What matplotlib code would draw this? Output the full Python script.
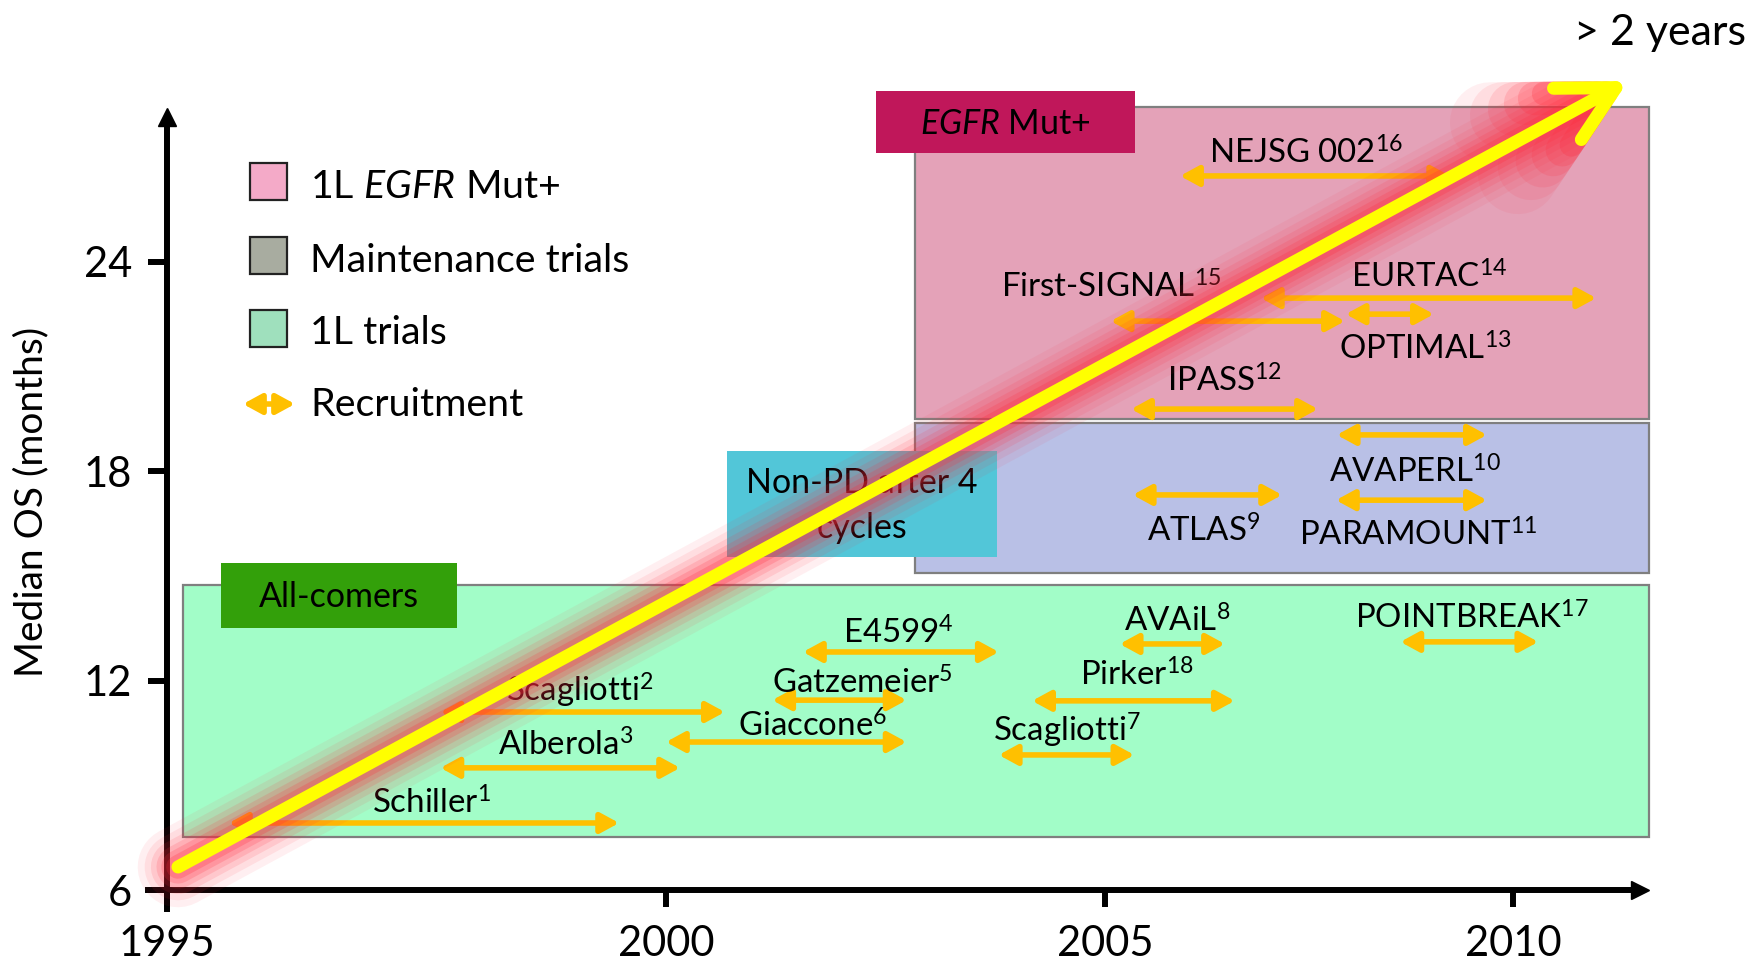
import numpy as np
import matplotlib
matplotlib.use("Agg")
import matplotlib.pyplot as plt
from matplotlib.patches import Rectangle

plt.rcParams['font.family'] = ['Lato', 'DejaVu Sans']
plt.rcParams['mathtext.fontset'] = 'custom'
plt.rcParams['mathtext.rm'] = 'Lato'
plt.rcParams['mathtext.it'] = 'Lato:italic'
plt.rcParams['mathtext.bf'] = 'Lato:bold'

# ---------------- data ----------------
trial_names = ['Schiller', 'Scagliotti', 'Alberola', 'E4599', 'Gatzemeier', 'Giaccone',
               'Scagliotti', 'AVAiL', 'Pirker', 'POINTBREAK', 'ATLAS', 'AVAPERL',
               'PARAMOUNT', 'IPASS', 'OPTIMAL', 'EURTAC', 'First-SIGNAL', 'NEJSG 002']
trial_refs = [1, 2, 3, 4, 5, 6, 7, 8, 18, 17, 9, 10, 11, 12, 13, 14, 15, 16]
recruit_start = [1995.62, 1997.74, 1997.74, 2001.56, 2001.21, 2000.00, 2003.79, 2005.18, 2004.17,
                 2008.62, 2005.34, 2007.84, 2007.83, 2005.32, 2007.95, 2006.91, 2005.07, 2005.92]
recruit_end = [1999.53, 2000.67, 2000.16, 2003.79, 2002.74, 2002.74, 2005.36, 2006.47, 2006.59,
               2010.31, 2007.17, 2009.68, 2009.68, 2007.61, 2009.03, 2011.02, 2007.94, 2009.23]
median_os = [7.92, 11.10, 9.50, 12.82, 11.44, 10.24, 9.87, 13.05, 11.42,
             13.11, 17.32, 19.04, 17.17, 19.78, 22.50, 22.96, 22.30, 26.46]
label_x = [1997.65, 1999.14, 1998.99, 2002.65, 2002.24, 2001.67, 2004.57, 2005.89, 2005.39,
           2009.49, 2006.21, 2008.80, 2008.84, 2006.47, 2008.92, 2008.97, 2005.07, 2007.46]
label_y = [8.50, 11.72, 10.14, 13.36, 11.92, 10.69, 10.57, 13.70, 12.15,
           13.78, 16.28, 17.98, 16.16, 20.58, 21.50, 23.56, 23.27, 27.10]

group_names = ['1L trials', 'Maintenance trials', '1L EGFR Mut+']
group_x0 = [1995.16, 2002.84, 2002.84]
group_x1 = [2011.67, 2011.67, 2011.67]
group_y0 = [7.52, 15.08, 19.50]
group_y1 = [14.74, 19.38, 28.44]

tag_texts = ['All-comers', 'Non-PD after 4\ncycles', r'$\mathit{EGFR}$ Mut+']
tag_x0 = [1995.54, 2000.69, 2002.39]
tag_x1 = [1997.91, 2003.77, 2005.37]
tag_y0 = [13.51, 15.54, 27.12]
tag_y1 = [15.37, 18.58, 28.89]

trend_start = (1995.11, 6.66)
trend_end = (2011.41, 29.18)
trend_label = '> 2 years'

x_ticks = [1995, 2000, 2005, 2010]
x_tick_labels = ['1995', '2000', '2005', '2010']
y_ticks = [6, 12, 18, 24]
y_tick_labels = ['6', '12', '18', '24']

legend_labels = [r'1L $\mathit{EGFR}$ Mut+', 'Maintenance trials', '1L trials', 'Recruitment']

# ---------------- style ----------------
group_colors = ['#a2fdc8', '#b9c0e6', '#e4a2b8']
tag_colors = ['#33a00a', '#52c6d8', '#c0175a']
legend_colors = ['#f4aac8', '#a8aca0', '#9fe0bd']
gold = '#ffc000'

W, H = 1750, 963
fig = plt.figure(figsize=(W / 100, H / 100), dpi=100)

ax_l, ax_r, ax_t, ax_b = 148, 1650, 108, 909
ax = fig.add_axes([ax_l / W, 1 - ax_b / H, (ax_r - ax_l) / W, (ax_b - ax_t) / H])
ax.patch.set_alpha(0)

# piecewise linear time axis as drawn on the slide
knot_years = np.array([1985.0, 1995.0, 2000.0, 2005.0, 2010.0, 2020.0])
knot_pos = np.array([167 - 998.0, 167.0, 666.0, 1105.0, 1513.0, 1513 + 816.0])


def fwd(x):
    return np.interp(x, knot_years, knot_pos)


def inv(p):
    return np.interp(p, knot_pos, knot_years)


ax.set_xscale('function', functions=(fwd, inv))
ax.set_xlim(inv(ax_l), inv(ax_r))
px_per_month = 34.9
ax.set_ylim(6 - (ax_b - 890) / px_per_month, 6 + (890 - ax_t) / px_per_month)

for s in ['top', 'right']:
    ax.spines[s].set_visible(False)
ax.spines['left'].set_position(('data', 1995))
ax.spines['bottom'].set_position(('data', 6))
for s in ['left', 'bottom']:
    ax.spines[s].set_linewidth(4.3)
ax.spines['left'].set_bounds(ax.get_ylim()[0], 6 + (890 - 122) / px_per_month)
ax.spines['bottom'].set_bounds(ax.get_xlim()[0], inv(1635))
ax.plot([inv(1640)], [6], marker='>', ms=12.5, color='k', clip_on=False, zorder=10)
ax.plot([1995], [6 + (890 - 117) / px_per_month], marker='^', ms=13, color='k',
        clip_on=False, zorder=10)

ax.set_xticks(x_ticks)
ax.set_xticklabels(x_tick_labels)
ax.set_yticks(y_ticks)
ax.set_yticklabels(y_tick_labels)
ax.xaxis.set_minor_locator(matplotlib.ticker.NullLocator())
ax.yaxis.set_minor_locator(matplotlib.ticker.NullLocator())
ax.tick_params(axis='both', direction='out', width=4.3, labelsize=30)
ax.tick_params(axis='x', length=12, pad=13)
ax.tick_params(axis='y', length=14, pad=11)

# group background rectangles
for x0, x1, y0, y1, c in zip(group_x0, group_x1, group_y0, group_y1, group_colors):
    ax.add_patch(Rectangle((x0, y0), x1 - x0, y1 - y0, facecolor=c, edgecolor='#7f7f7f',
                           lw=1.6, zorder=1, clip_on=False))

# tag boxes
for t, x0, x1, y0, y1, c in zip(tag_texts, tag_x0, tag_x1, tag_y0, tag_y1, tag_colors):
    ax.add_patch(Rectangle((x0, y0), x1 - x0, y1 - y0, facecolor=c, edgecolor='none',
                           zorder=2, clip_on=False))
    xc = inv((fwd(x0) + fwd(x1)) / 2)
    ax.text(xc, (y0 + y1) / 2 - 0.05, t, ha='center', va='center', fontsize=24.5,
            linespacing=1.5, zorder=4, clip_on=False)

# recruitment arrows
arrow_style = '<|-|>,head_length=1.1,head_width=0.6'
for s, e, y in zip(recruit_start, recruit_end, median_os):
    ax.annotate('', xy=(e, y), xytext=(s, y),
                arrowprops=dict(arrowstyle=arrow_style, color=gold, lw=4.0,
                                shrinkA=0, shrinkB=0, mutation_scale=10),
                zorder=3, annotation_clip=False)

for n, r, x, y in zip(trial_names, trial_refs, label_x, label_y):
    ax.text(x, y, n + '$^{%d}$' % r, ha='center', va='center', fontsize=23.8, zorder=4)

# trend arrow with red glow
head = '->,head_length=3.96,head_width=2.1'
for lw, a in [(58, 0.07), (48, 0.09), (39, 0.12), (31, 0.15), (24, 0.19), (17, 0.24)]:
    ax.annotate('', xy=trend_end, xytext=trend_start,
                arrowprops=dict(arrowstyle=head, color='#ff2a3c', alpha=a, lw=lw,
                                shrinkA=0, shrinkB=0, mutation_scale=10,
                                capstyle='round', joinstyle='round'),
                zorder=5, annotation_clip=False)
ax.annotate('', xy=trend_end, xytext=trend_start,
            arrowprops=dict(arrowstyle=head, color='#ffff00', lw=9.4,
                            shrinkA=0, shrinkB=0, mutation_scale=10,
                            capstyle='round', joinstyle='round'),
            zorder=6, annotation_clip=False)

fig.text(1574 / W, 1 - 33 / H, trend_label, ha='left', va='center', fontsize=31)

# y label
fig.text(31 / W, 1 - 502 / H, 'Median OS (months)', rotation=90, ha='center', va='center',
         fontsize=28)

# legend (drawn manually to follow the slide layout)
sq_top = [163, 237, 310]
for top, c in zip(sq_top, legend_colors):
    fig.add_artist(Rectangle((250 / W, 1 - (top + 37) / H), 37 / W, 37 / H,
                             facecolor=c, edgecolor='#222222', lw=1.6,
                             transform=fig.transFigure))
fig.add_artist(matplotlib.patches.FancyArrowPatch(
    (243 / W, 1 - 404 / H), (295 / W, 1 - 404 / H), transform=fig.transFigure,
    arrowstyle=arrow_style, color=gold, lw=4.0, mutation_scale=10,
    shrinkA=0, shrinkB=0))
for lab, yc in zip(legend_labels, [187, 261, 333, 405]):
    fig.text(310 / W, 1 - yc / H, lab, ha='left', va='center', fontsize=28.4)

fig.savefig('out.png', dpi=100)
